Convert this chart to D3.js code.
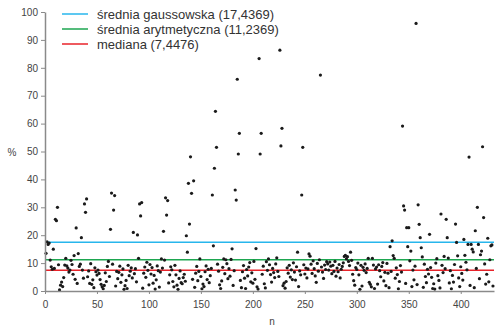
<!DOCTYPE html>
<html>
<head>
<meta charset="utf-8">
<script src="https://cdn.jsdelivr.net/npm/d3@7"></script>
<style>
  body { margin: 0; background: #fff; }
  svg { display: block; font-family: "Liberation Sans", Arial, sans-serif; }
</style>
</head>
<body>
<div id="chart"></div>
<script>
// values in %, one per n = 1..431
const pct = [
  13.5, 17.6, 16.7, 17.2, 11.1, 8.7, 7.8, 15.0, 8.1, 25.7,
  25.2, 30.0, 9.4, 0.4, 2.1, 3.2, 1.6, 4.8, 9.3, 11.7,
  9.0, 8.2, 6.8, 7.5, 11.0, 9.5, 6.0, 12.7, 4.2, 22.6,
  2.7, 13.4, 8.8, 9.6, 19.1, 7.5, 4.6, 31.2, 28.2, 33.0,
  5.1, 7.2, 2.7, 9.8, 2.4, 4.0, 1.2, 8.3, 6.9, 5.7,
  7.5, 6.3, 4.1, 2.4, 1.5, 0.8, 2.0, 6.5, 3.4, 8.8,
  10.6, 5.2, 22.1, 35.1, 9.6, 29.0, 34.2, 1.8, 7.0, 4.4,
  6.7, 8.9, 3.1, 5.8, 7.9, 0.6, 1.9, 3.8, 0.9, 9.2,
  5.5, 7.1, 8.3, 4.7, 21.0, 6.2, 8.0, 3.3, 20.1, 11.7,
  31.2, 26.9, 31.7, 1.0, 6.4, 8.6, 4.9, 10.3, 7.4, 2.2,
  9.5, 6.1, 8.4, 2.8, 5.6, 0.7, 4.0, 9.0, 7.3, 1.4,
  6.8, 11.5, 8.2, 21.4, 11.1, 33.4, 27.2, 32.4, 2.9, 5.8,
  8.7, 7.6, 3.4, 1.5, 9.2, 5.8, 2.1, 0.6, 4.5, 7.2,
  3.0, 2.6, 4.8, 6.0, 3.5, 19.8, 13.9, 38.6, 24.0, 48.1,
  35.0, 4.2, 39.5, 1.3, 6.4, 8.8, 3.7, 7.0, 11.5, 5.2,
  0.8, 2.5, 1.6, 6.9, 9.0, 4.1, 7.8, 3.0, 5.5, 8.1,
  34.4, 16.2, 44.0, 64.4, 51.5, 9.6, 7.1, 2.2, 0.9, 3.6,
  8.5, 11.5, 6.2, 11.2, 9.8, 4.4, 8.0, 5.3, 11.3, 15.1,
  2.0, 7.3, 36.2, 32.6, 75.9, 49.1, 56.5, 3.8, 1.2, 6.9,
  9.1, 4.6, 0.9, 7.7, 5.4, 8.6, 10.2, 3.3, 6.5, 2.8,
  10.6, 4.2, 15.2, 1.5, 0.7, 83.3, 49.1, 56.5, 6.0, 8.9,
  2.6, 1.1, 10.5, 7.4, 11.5, 9.4, 5.9, 3.2, 8.1, 6.6,
  4.8, 9.7, 11.9, 7.0, 5.2, 86.3, 52.0, 58.3, 1.9, 2.8,
  1.0, 3.4, 8.3, 6.4, 9.2, 5.0, 7.6, 4.1, 10.1, 6.8,
  3.9, 8.7, 13.9, 1.6, 7.2, 5.8, 34.4, 51.5, 9.4, 6.1,
  8.2, 4.7, 7.9, 13.3, 12.5, 9.6, 6.3, 10.8, 8.0, 5.4,
  3.1, 9.9, 7.1, 11.2, 77.4, 8.6, 6.8, 4.5, 9.3, 7.7,
  10.5, 9.7, 7.5, 10.4, 8.9, 6.2, 9.2, 7.0, 10.6, 5.3,
  8.2, 6.9, 9.5, 4.7, 7.8, 8.8, 10.1, 12.4, 12.8, 11.5,
  12.3, 10.6, 9.1, 13.9, 11.0, 6.0, 3.7, 2.1, 8.4, 7.7,
  10.0, 5.8, 0.6, 9.2, 1.8, 8.5, 7.4, 9.7, 6.6, 8.1,
  11.7, 3.1, 2.4, 1.5, 11.7, 9.3, 0.9, 7.9, 8.6, 2.5,
  9.4, 7.3, 5.1, 8.8, 10.2, 3.6, 6.7, 1.9, 9.9, 6.4,
  1.2, 15.9, 7.0, 18.0, 12.7, 11.7, 4.6, 8.3, 5.9, 0.8,
  3.4, 9.1, 6.8, 59.1, 30.5, 29.0, 2.7, 22.7, 15.9, 22.7,
  10.8, 14.3, 1.6, 7.5, 4.0, 8.9, 95.9, 2.3, 30.9, 23.9,
  19.1, 15.5, 12.2, 1.3, 9.6, 5.2, 3.0, 7.8, 6.1, 20.3,
  8.4, 4.9, 0.9, 2.6, 0.7, 10.0, 11.6, 5.5, 3.8, 1.1,
  27.6, 9.2, 6.6, 12.4, 8.0, 25.7, 19.1, 11.8, 2.9, 7.3,
  0.8, 5.6, 3.2, 9.5, 24.0, 17.4, 12.6, 4.7, 1.6, 8.7,
  6.3, 3.9, 18.5, 12.8, 10.3, 7.6, 16.7, 48.0, 2.0, 16.7,
  15.0, 14.0, 1.2, 21.6, 8.1, 30.0, 16.7, 4.4, 13.0, 14.3,
  51.7, 26.3, 9.7, 2.5, 6.0, 18.9, 3.3, 11.2, 16.2, 16.5, 1.8
];

const refNames = ["średnia gaussowska (17,4369)", "średnia arytmetyczna (11,2369)", "mediana (7,4476)"];
const refValues = [17.4369, 11.2369, 7.4476];
const refColors = ["#27b6ec", "#1da650", "#e8232a"];

const xTicks = [0, 50, 100, 150, 200, 250, 300, 350, 400];
const yTicks = [0, 10, 20, 30, 40, 50, 60, 70, 80, 90, 100];

const W = 496, H = 330;
const margin = { top: 12, right: 2, bottom: 39, left: 45 };
const width = W - margin.left - margin.right;
const height = H - margin.top - margin.bottom;

const svg = d3.select("#chart").append("svg")
  .attr("width", W)
  .attr("height", H);

const g = svg.append("g")
  .attr("transform", `translate(${margin.left},${margin.top})`);

const x = d3.scaleLinear().domain([0, 432]).range([0, width]);
const y = d3.scaleLinear().domain([0, 100]).range([height, 0]);

// reference lines
g.selectAll(".ref")
  .data(refValues)
  .join("line")
  .attr("class", "ref")
  .attr("x1", 0).attr("x2", width)
  .attr("y1", d => y(d)).attr("y2", d => y(d))
  .attr("stroke", (d, i) => refColors[i])
  .attr("stroke-width", 1.5);

// points
g.selectAll(".dot")
  .data(pct)
  .join("circle")
  .attr("class", "dot")
  .attr("cx", (d, i) => x(i + 1))
  .attr("cy", d => y(d))
  .attr("r", 1.6)
  .attr("fill", "#1a1a1a");

// axes
const xAxis = g.append("g")
  .attr("transform", `translate(0,${height})`)
  .call(d3.axisBottom(x).tickValues(xTicks).tickSize(3).tickSizeOuter(0).tickPadding(7));

const yAxis = g.append("g")
  .call(d3.axisLeft(y).tickValues(yTicks).tickSize(4).tickSizeOuter(0).tickPadding(3));

[xAxis, yAxis].forEach(a => {
  a.select(".domain").attr("stroke", "#8a8a8a").attr("stroke-width", 1.5);
  a.selectAll(".tick line").attr("stroke", "#8a8a8a");
  a.selectAll(".tick text")
    .attr("fill", "#444")
    .style("font-size", "10px")
    .style("font-family", "Liberation Sans, Arial, sans-serif");
});

// axis titles
svg.append("text")
  .attr("x", 12).attr("y", 156)
  .attr("text-anchor", "middle")
  .attr("fill", "#444")
  .style("font-size", "10px")
  .text("%");

svg.append("text")
  .attr("x", 272).attr("y", 325)
  .attr("text-anchor", "middle")
  .attr("fill", "#444")
  .style("font-size", "10px")
  .text("n");

// legend
const legend = svg.append("g").attr("transform", "translate(62,14)");
const items = legend.selectAll("g")
  .data(refNames)
  .join("g")
  .attr("transform", (d, i) => `translate(0,${i * 15})`);

items.append("line")
  .attr("x1", 0).attr("x2", 26)
  .attr("stroke", (d, i) => refColors[i])
  .attr("stroke-width", 1.5);

items.append("text")
  .attr("x", 35).attr("dy", "0.35em")
  .attr("fill", "#333")
  .style("font-size", "13px")
  .text(d => d);
</script>
</body>
</html>
